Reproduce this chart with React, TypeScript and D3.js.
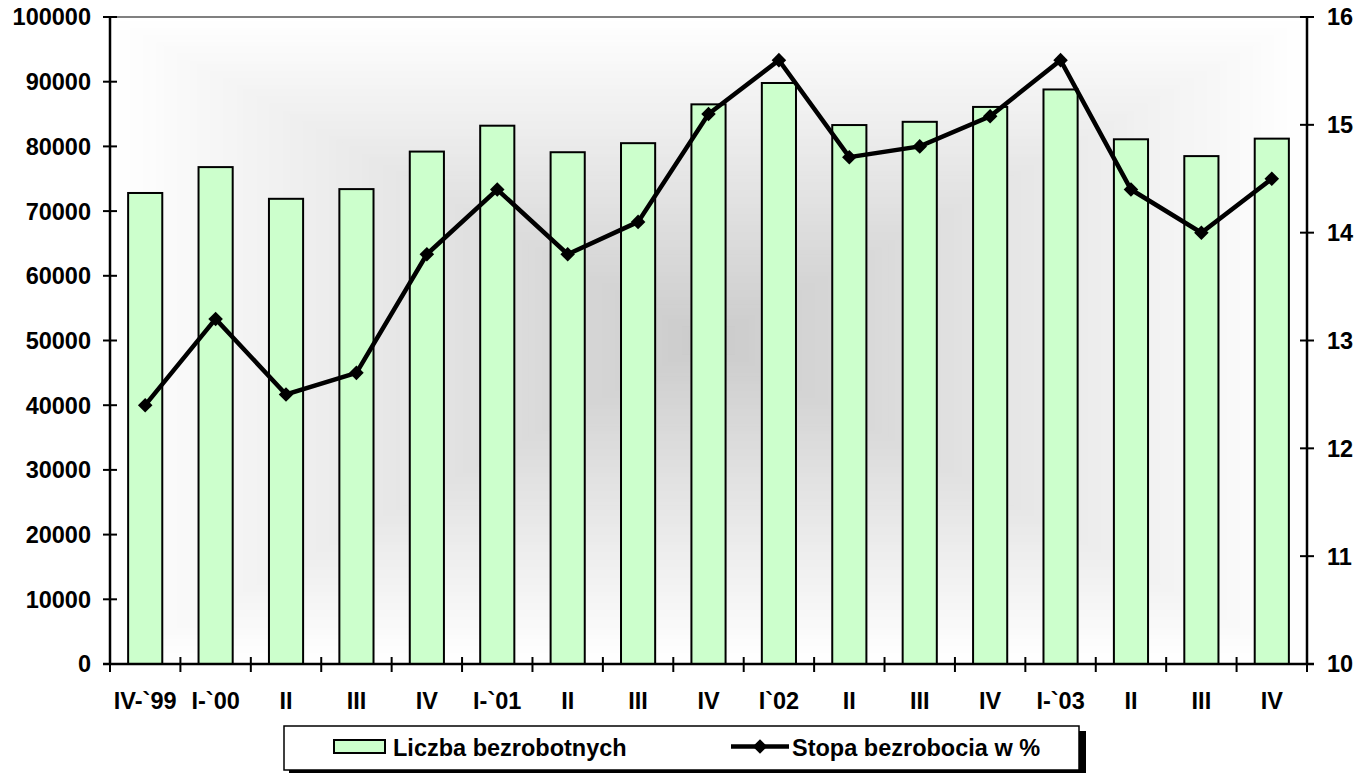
import React, { useEffect, useRef } from "react";
import * as d3 from "d3";

const categories = ["IV-`99", "I-`00", "II", "III", "IV", "I-`01", "II", "III", "IV", "I`02", "II", "III", "IV", "I-`03", "II", "III", "IV"];
const unemployed = [72800, 76800, 71900, 73400, 79200, 83200, 79100, 80500, 86500, 89800, 83300, 83800, 86100, 88800, 81100, 78500, 81200];
const rate = [12.4, 13.2, 12.5, 12.7, 13.8, 14.4, 13.8, 14.1, 15.1, 15.6, 14.7, 14.8, 15.08, 15.6, 14.4, 14.0, 14.5];
const leftTicks = [0, 10000, 20000, 30000, 40000, 50000, 60000, 70000, 80000, 90000, 100000];
const rightTicks = [10, 11, 12, 13, 14, 15, 16];
const legendLabels = ["Liczba bezrobotnych", "Stopa bezrobocia w %"];

const W = 1364, H = 773;
const M = { left: 110, right: 1307, top: 17, bottom: 664 };
const FONT = "'Liberation Sans', Arial, sans-serif";
const FS = 23.5;

export default function App() {
  const ref = useRef<SVGSVGElement>(null);
  useEffect(() => {
    const svg = d3.select(ref.current);
    svg.selectAll("*").remove();
    const idx = categories.map((_, i) => i);
    const x = d3.scaleBand<number>().domain(idx).range([M.left, M.right]).padding(0);
    const yL = d3.scaleLinear().domain([0, 100000]).range([M.bottom, M.top]);
    const yR = d3.scaleLinear().domain([10, 16]).range([M.bottom, M.top]);

    // rectangular "from center" gradient background
    const bg = svg.append("g");
    const N = 90;
    const cx = (M.left + M.right) / 2, cy = (M.top + M.bottom) / 2;
    const hw = (M.right - M.left) / 2, hh = (M.bottom - M.top) / 2;
    const col = d3.interpolateRgb("#ffffff", "#cbcbcb");
    for (let k = 0; k < N; k++) {
      const f = 1 - k / N;
      bg.append("rect")
        .attr("x", cx - hw * f).attr("y", cy - hh * f)
        .attr("width", 2 * hw * f).attr("height", 2 * hh * f)
        .attr("fill", col(k / N));
    }
    svg.append("line").attr("x1", M.left).attr("x2", M.right).attr("y1", M.top).attr("y2", M.top).attr("stroke", "#808080").attr("stroke-width", 2);

    const bw = x.bandwidth() * 0.485;
    svg.append("g").selectAll("rect").data(unemployed).join("rect")
      .attr("x", (_, i) => x(i)! + x.bandwidth() / 2 - bw / 2)
      .attr("y", d => yL(d))
      .attr("width", bw)
      .attr("height", d => yL(0) - yL(d))
      .attr("fill", "#ccffcc").attr("stroke", "#000").attr("stroke-width", 2);

    // axes
    const ax = svg.append("g").attr("stroke", "#000").attr("stroke-width", 2.5);
    ax.append("line").attr("x1", M.left).attr("x2", M.left).attr("y1", M.top).attr("y2", M.bottom);
    ax.append("line").attr("x1", M.right).attr("x2", M.right).attr("y1", M.top).attr("y2", M.bottom);
    ax.append("line").attr("x1", M.left - 7).attr("x2", M.right + 7).attr("y1", M.bottom).attr("y2", M.bottom);
    leftTicks.forEach(t => ax.append("line").attr("x1", M.left - 7).attr("x2", M.left + 7).attr("y1", yL(t)).attr("y2", yL(t)).attr("stroke-width", 2));
    rightTicks.forEach(t => ax.append("line").attr("x1", M.right - 7).attr("x2", M.right + 7).attr("y1", yR(t)).attr("y2", yR(t)).attr("stroke-width", 2));
    d3.range(categories.length + 1).forEach(i => {
      const xx = M.left + i * x.step();
      ax.append("line").attr("x1", xx).attr("x2", xx).attr("y1", M.bottom - 7).attr("y2", M.bottom + 8).attr("stroke-width", 2);
    });

    const txt = svg.append("g").attr("font-family", FONT).attr("font-weight", "bold").attr("font-size", FS).attr("fill", "#000");
    leftTicks.forEach(t => txt.append("text").attr("x", 91).attr("y", yL(t)).attr("dy", "0.36em").attr("text-anchor", "end").text(String(t)));
    rightTicks.forEach(t => txt.append("text").attr("x", 1327).attr("y", yR(t)).attr("dy", "0.36em").text(String(t)));
    categories.forEach((c, i) => txt.append("text").attr("x", x(i)! + x.bandwidth() / 2).attr("y", 709).attr("text-anchor", "middle").text(c));

    // line
    const line = d3.line<number>().x((_, i) => x(i)! + x.bandwidth() / 2).y(d => yR(d));
    svg.append("path").datum(rate).attr("d", line).attr("fill", "none").attr("stroke", "#000").attr("stroke-width", 4.5).attr("stroke-linejoin", "miter");
    const diamond = d3.symbol().type(d3.symbolDiamond2).size(135);
    svg.append("g").selectAll("path").data(rate).join("path")
      .attr("d", diamond as any)
      .attr("transform", (d, i) => `translate(${x(i)! + x.bandwidth() / 2},${yR(d)})`)
      .attr("fill", "#000");

    // legend
    const lg = svg.append("g");
    lg.append("rect").attr("x", 289).attr("y", 731).attr("width", 797).attr("height", 42).attr("fill", "#000");
    lg.append("rect").attr("x", 284).attr("y", 726).attr("width", 795).attr("height", 44).attr("fill", "#fff").attr("stroke", "#000").attr("stroke-width", 1.5);
    lg.append("rect").attr("x", 334).attr("y", 740).attr("width", 51).attr("height", 13).attr("fill", "#ccffcc").attr("stroke", "#000").attr("stroke-width", 2);
    lg.append("text").attr("x", 393).attr("y", 756).attr("font-family", FONT).attr("font-weight", "bold").attr("font-size", FS).text(legendLabels[0]);
    lg.append("line").attr("x1", 731).attr("x2", 789).attr("y1", 746.5).attr("y2", 746.5).attr("stroke", "#000").attr("stroke-width", 4.5);
    lg.append("path").attr("d", diamond as any).attr("transform", "translate(760,746.5)").attr("fill", "#000");
    lg.append("text").attr("x", 792).attr("y", 756).attr("font-family", FONT).attr("font-weight", "bold").attr("font-size", FS).text(legendLabels[1]);
  }, []);
  return (
    <svg ref={ref} width={W} height={H} style={{ position: "absolute", left: 0, top: 0, background: "#fff" }} />
  );
}
